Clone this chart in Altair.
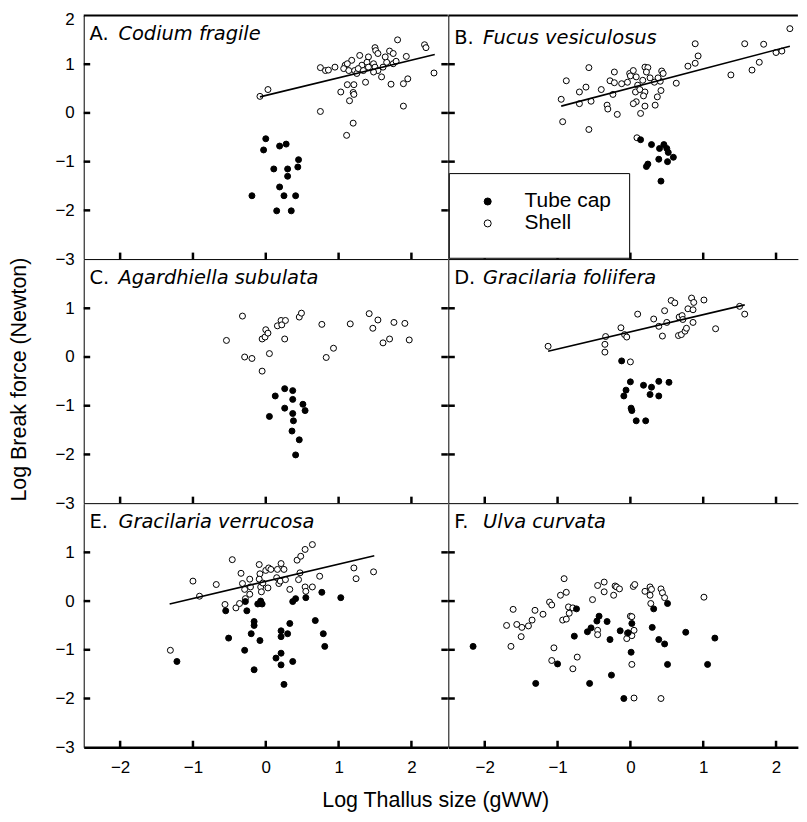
import altair as alt
import pandas as pd

# ---------------- data ----------------
letters = ["A", "B", "C", "D", "E", "F"]
species = ["Codium fragile", "Fucus vesiculosus", "Agardhiella subulata",
           "Gracilaria foliifera", "Gracilaria verrucosa", "Ulva curvata"]
groups = ["Tube cap", "Shell"]
x_ticks = [-2, -1, 0, 1, 2]
y_ticks = [-2, -1, 0, 1]
x_title = "Log Thallus size (gWW)"
y_title = "Log Break force (Newton)"

# A. Codium fragile
codium_cap_x = [0.00, -0.03, 0.19, 0.28, 0.45, 0.44, 0.11, 0.30, 0.30, 0.19, -0.19, 0.25, 0.41, 0.15, 0.35]
codium_cap_y = [-0.53, -0.76, -0.68, -0.64, -0.96, -1.11, -1.15, -1.15, -1.30, -1.52, -1.70, -1.70, -1.70, -2.01, -2.01]
codium_shell_x = [-0.08, 0.03, 0.75, 0.82, 0.86, 0.95, 0.75, 1.03, 1.12, 1.21, 1.15, 1.20, 1.21, 1.20, 1.11,
                  1.37, 1.72, 1.89, 1.95, 1.89, 2.31, 2.18, 2.20, 1.81, 1.93, 1.70, 1.75, 1.50, 1.51, 1.54,
                  1.29, 1.41, 1.18, 1.09, 1.07, 1.14, 1.22, 1.25, 1.32, 1.39, 1.48, 1.50, 1.54, 1.59, 1.61,
                  1.66, 1.75, 1.79, 1.64, 1.27, 1.34, 1.41, 1.12, 1.48]
codium_shell_y = [0.34, 0.48, 0.93, 0.87, 0.88, 0.94, 0.03, 0.43, 0.58, 0.58, 0.25, 0.42, 0.38, -0.21, -0.46,
                  0.63, 0.59, 0.60, 0.70, 0.14, 0.82, 1.40, 1.34, 1.50, 1.16, 1.27, 1.22, 1.34, 1.28, 1.22,
                  1.18, 1.15, 1.08, 0.98, 0.91, 0.87, 0.87, 0.81, 0.98, 1.04, 1.01, 0.94, 0.87, 0.74, 0.94,
                  1.04, 1.01, 1.06, 1.15, 0.91, 0.87, 0.94, 1.01, 0.84]
codium_fit_x = [-0.08, 2.32]
codium_fit_y = [0.33, 1.20]

# B. Fucus vesiculosus
fucus_cap_x = [0.14, 0.29, 0.40, 0.46, 0.50, 0.52, 0.39, 0.51, 0.59, 0.24, 0.22, 0.42]
fucus_cap_y = [-0.55, -0.65, -0.73, -0.65, -0.73, -0.81, -0.95, -1.00, -0.91, -1.05, -1.10, -1.40]
fucus_shell_x = [2.19, 0.89, 1.57, 1.83, 0.93, 0.89, 0.79, 2.00, 2.08, 1.77, 1.67, 1.38, 0.63, -0.57, -0.88,
                 -0.95, -0.93, -0.57, -0.70, -0.61, -0.40, -0.54, -0.70, -0.32, -0.31, -0.18, -0.24, -0.28,
                 -0.22, -0.22, -0.12, -0.04, -0.01, 0.04, 0.00, 0.08, 0.20, 0.24, 0.22, 0.27, 0.17, 0.10,
                 0.07, 0.13, 0.20, 0.18, 0.08, 0.04, 0.14, 0.20, 0.34, 0.37, 0.42, 0.41, 0.38, 0.43, 0.45,
                 0.33, 0.09]
fucus_shell_y = [1.73, 1.42, 1.42, 1.41, 1.17, 1.02, 0.96, 1.24, 1.27, 1.04, 0.88, 0.78, 0.61, 0.93, 0.66,
                 0.28, -0.18, -0.34, 0.43, 0.53, 0.48, 0.24, 0.19, 0.16, 0.08, -0.03, 0.38, 0.66,
                 0.84, 0.62, 0.60, 0.63, 0.81, 0.87, 0.76, 0.74, 0.94, 0.93, 0.84, 0.72, 0.67, 0.57,
                 0.43, 0.48, 0.43, 0.35, 0.23, 0.19, -0.01, 0.14, 0.16, 0.33, 0.46, 0.65, 0.72, 0.86, 0.81,
                 0.63, -0.51]
fucus_fit_x = [-0.95, 2.19]
fucus_fit_y = [0.14, 1.37]

# C. Agardhiella subulata
agard_cap_x = [0.26, 0.37, 0.37, 0.13, 0.51, 0.54, 0.26, 0.37, 0.38, 0.05, 0.36, 0.46, 0.41]
agard_cap_y = [-0.65, -0.69, -0.87, -0.80, -0.97, -1.10, -1.05, -1.16, -1.31, -1.22, -1.52, -1.70, -2.01]
agard_shell_x = [-0.54, -0.32, -0.29, -0.19, -0.05, -0.05, -0.01, 0.00, 0.03, 0.05, 0.16, 0.21, 0.22, 0.27,
                 0.26, 0.46, 0.49, 0.77, 0.83, 0.93, 1.16, 1.42, 1.47, 1.54, 1.61, 1.70, 1.76, 1.91, 1.97]
agard_shell_y = [0.34, 0.84, 0.00, -0.03, -0.29, 0.37, 0.41, 0.56, 0.49, 0.07, 0.64, 0.75, 0.66, 0.75,
                 0.37, 0.82, 0.90, 0.67, -0.01, 0.18, 0.68, 0.89, 0.59, 0.76, 0.29, 0.37, 0.71, 0.69, 0.35]

# D. Gracilaria foliifera
foli_cap_x = [-0.12, 0.00, -0.06, -0.09, 0.18, 0.29, 0.39, 0.53, 0.27, 0.39, 0.01, 0.02, 0.08, 0.21]
foli_cap_y = [-0.08, -0.51, -0.68, -0.80, -0.58, -0.62, -0.50, -0.52, -0.77, -0.80, -1.05, -1.10, -1.31, -1.31]
foli_shell_x = [-1.13, -0.34, -0.35, -0.35, -0.13, -0.08, -0.05, 0.00, 0.10, 0.32, 0.39, 0.44, 0.47, 0.50,
                0.56, 0.61, 0.67, 0.71, 0.72, 0.66, 0.70, 0.75, 0.77, 0.79, 0.84, 0.87, 0.86, 0.86, 1.01,
                1.17, 1.50, 1.57]
foli_shell_y = [0.22, 0.42, 0.26, 0.10, 0.60, 0.46, 0.41, -0.10, 0.88, 0.78, 0.63, 0.43, 0.95, 0.71,
                1.16, 1.11, 0.82, 0.85, 0.77, 0.44, 0.46, 0.53, 0.59, 0.99, 1.21, 1.12, 0.97, 0.71, 1.17,
                0.58, 1.04, 0.88]
foli_fit_x = [-1.13, 1.57]
foli_fit_y = [0.12, 1.07]

# E. Gracilaria verrucosa
verr_cap_x = [-1.22, -0.55, -0.51, -0.29, -0.26, -0.28, -0.16, -0.16, -0.20, -0.08, -0.16, -0.07, -0.05, -0.11,
              0.14, 0.21, 0.21, 0.25, 0.21, 0.21, 0.30, 0.33, 0.37, 0.37, 0.41, 0.55, 0.68, 0.77, 0.79, 0.81, 1.03]
verr_cap_y = [-1.24, -0.20, -0.76, -1.01, -0.20, -0.01, -0.42, -0.50, -0.67, -0.81, -1.41, 0.00, -0.06, -0.06,
              -1.17, -1.07, -1.31, -1.71, -0.61, -0.73, -0.67, -0.46, -1.24, -0.01, 0.05, 0.07, -0.40, 0.18, -0.67,
              -0.93, 0.07]
verr_shell_x = [-1.31, -1.00, -0.91, -0.68, -0.56, -0.46, -0.41, -0.36, -0.34, -0.32, -0.29, -0.28, -0.22, -0.21,
                -0.22, -0.09, -0.08, -0.09, -0.07, -0.06, -0.04, 0.00, 0.03, 0.04, 0.07, 0.16, 0.15, 0.18, 0.20,
                0.21, 0.25, 0.27, 0.33, 0.43, 0.45, 0.47, 0.48, 0.54, 0.54, 0.55, 0.64, 0.64, 0.74, 1.21, 1.24, 1.48]
verr_shell_y = [-1.01, 0.41, 0.10, 0.34, -0.07, 0.85, -0.14, -0.05, 0.57, 0.36, 0.24, 0.05, 0.45, 0.29,
                0.14, 0.75, 0.56, 0.45, 0.29, 0.19, 0.37, 0.63, 0.27, 0.68, 0.65, 0.65, 0.48, 0.36, 0.41,
                0.77, 0.65, 0.44, 0.24, 0.84, 0.44, 0.58, 0.92, 1.06, 0.29, 0.20, 1.16, 0.29, 0.51, 0.68, 0.46, 0.60]
verr_fit_x = [-1.32, 1.49]
verr_fit_y = [-0.06, 0.93]

# F. Ulva curvata
ulva_cap_x = [-2.16, -1.30, -1.00, -0.77, -0.74, -0.59, -0.54, -0.56, -0.46, -0.43, -0.32, -0.28, -0.26, -0.14,
              -0.09, -0.03, 0.01, 0.02, 0.30, 0.32, 0.39, 0.47, 0.51, 0.51, 0.76, 1.06, 1.16]
ulva_cap_y = [-0.93, -1.69, -1.29, -0.72, -0.16, -0.63, -0.55, -1.69, -0.41, -0.31, -0.42, -0.79, -1.52, -0.61,
              -2.00, -0.65, -1.05, -0.46, -0.54, -0.16, -0.79, -0.88, -0.05, -1.30, -0.64, -1.30, -0.76]
ulva_shell_x = [-1.70, -1.64, -1.61, -1.56, -1.50, -1.49, -1.40, -1.35, -1.31, -1.20, -1.11, -1.08, -1.08, -1.05,
                -0.96, -0.93, -0.91, -0.88, -0.88, -0.85, -0.84, -0.79, -0.79, -0.73, -0.52, -0.45, -0.45, -0.45,
                -0.36, -0.36, -0.23, -0.21, -0.19, -0.15, -0.05, -0.04, 0.00, 0.02, 0.02, 0.05, 0.02, 0.05,
                0.04, 0.06, 0.20, 0.27, 0.27, 0.29, 0.28, 0.42, 0.44, 0.47, 0.42, 1.01]
ulva_shell_y = [-0.50, -0.93, -0.17, -0.48, -0.73, -0.54, -0.51, -0.39, -0.19, -0.27, -0.02, -0.08, -1.22, -0.96,
                0.12, -0.39, 0.46, 0.18, -0.37, -0.12, -0.25, -0.14, -1.39, -1.15, 0.03, -0.60, -0.69, 0.32,
                0.39, 0.19, 0.12, 0.31, 0.29, 0.25, -0.77, -0.66, -0.31, -0.32, -0.71, -0.60, -1.30, -1.99,
                0.30, 0.34, 0.20, 0.29, 0.12, 0.24, -0.05, 0.25, 0.17, 0.07, -2.00, 0.08]

panels_data = [
    (codium_cap_x, codium_cap_y, codium_shell_x, codium_shell_y, codium_fit_x, codium_fit_y),
    (fucus_cap_x, fucus_cap_y, fucus_shell_x, fucus_shell_y, fucus_fit_x, fucus_fit_y),
    (agard_cap_x, agard_cap_y, agard_shell_x, agard_shell_y, None, None),
    (foli_cap_x, foli_cap_y, foli_shell_x, foli_shell_y, foli_fit_x, foli_fit_y),
    (verr_cap_x, verr_cap_y, verr_shell_x, verr_shell_y, verr_fit_x, verr_fit_y),
    (ulva_cap_x, ulva_cap_y, ulva_shell_x, ulva_shell_y, None, None),
]

# ---------------- layout / style ----------------
FONT = "Liberation Sans"
TITLE_FONT = "DejaVu Sans"
X_MIN, X_MAX_L, X_MAX_R = -2.5, 2.5, 2.3
Y_MIN, Y_MAX = -3, 2
W_LEFT, H = 365.5, 244.5
PX_PER_X = W_LEFT / (X_MAX_L - X_MIN)
W_RIGHT = PX_PER_X * (X_MAX_R - X_MIN)
PX_PER_Y = H / (Y_MAX - Y_MIN)
TICK_PX = 6.5
label_x = -2.42
label_y = [1.50, 1.42, 1.50, 1.50, 1.49, 1.49]


def make_panel(i, cap_x, cap_y, shell_x, shell_y, fit_x, fit_y):
    row, col = divmod(i, 2)
    is_left, is_top, is_bottom = col == 0, row == 0, row == 2
    w = W_LEFT if is_left else W_RIGHT
    x_max = X_MAX_L if is_left else X_MAX_R
    xs = alt.Scale(domain=[X_MIN, x_max], nice=False, zero=False)
    ys = alt.Scale(domain=[Y_MIN, Y_MAX], nice=False, zero=False)

    x_main = alt.Axis(
        orient="bottom", values=x_ticks, ticks=False, tickSize=0, labels=is_bottom,
        domain=True, domainColor="black", domainWidth=2.7 if is_bottom else 1,
        grid=False, labelFont=FONT, labelFontSize=17, labelColor="black", labelPadding=12,
        labelFlush=False, labelOverlap=False, minExtent=0,
        title=x_title if (is_bottom and is_left) else None,
        titleFont=FONT, titleFontSize=21.5, titleFontWeight="normal", titleColor="black",
        titleX=352.75, titleY=59.5, titleAlign="center", titleBaseline="alphabetic",
    )
    y_main = alt.Axis(
        orient="left", values=([2, 1, 0, -1, -2, -3] if is_top else [1, 0, -1, -2, -3]),
        ticks=False, tickSize=0, labels=is_left, domain=True, domainColor="black", domainWidth=1,
        grid=False, labelFont=FONT, labelFontSize=17, labelColor="black", labelPadding=9.5,
        labelOffset={"condition": {"test": "datum.value == 2", "value": 4.5}, "value": 0},
        labelFlush=False, labelOverlap=False, minExtent=0,
        title=y_title if i == 2 else None,
        titleFont=FONT, titleFontSize=21.5, titleFontWeight="normal", titleColor="black",
        titleX=-64.5, titleY=120, titleAngle=270, titleAlign="center", titleBaseline="middle",
    )

    # every layer shares the very same axis definitions
    def X(field="x"):
        return alt.X(f"{field}:Q", scale=xs, axis=x_main)

    def Y(field="y"):
        return alt.Y(f"{field}:Q", scale=ys, axis=y_main)

    pts = pd.DataFrame({
        "x": list(shell_x) + list(cap_x),
        "y": list(shell_y) + list(cap_y),
        "group": ["Shell"] * len(shell_x) + ["Tube cap"] * len(cap_x),
    })

    if i == 1:
        legend = alt.Legend(
            orient="none", legendX=0.5, legendY=158.2, title=" ", titleOrient="bottom",
            titleFontSize=6, titlePadding=0, fillColor="white", strokeColor="black",
            padding=18, symbolType="circle", symbolSize=50, symbolStrokeColor="black",
            symbolStrokeWidth=1, symbolOffset=10.5, labelOffset=26.5, labelFont=FONT,
            labelFontSize=21, labelColor="black", rowPadding=0,
        )
    else:
        legend = None

    points = alt.Chart(pts).mark_point(filled=True, size=36, stroke="black", strokeWidth=1, opacity=1).encode(
        x=X(), y=Y(),
        fill=alt.Fill("group:N", scale=alt.Scale(domain=groups, range=["black", "white"]), legend=legend),
    )
    layers = [points]

    # inward tick marks at the tick values (bottom and left edges, plus right edge of left column)
    tick_len_x = TICK_PX / PX_PER_X
    tick_len_y = TICK_PX / PX_PER_Y
    bt = pd.DataFrame({"x": x_ticks, "y": [Y_MIN] * len(x_ticks),
                       "y2": [Y_MIN + tick_len_y] * len(x_ticks)})
    layers.append(alt.Chart(bt).mark_rule(color="black", strokeWidth=2.5, strokeCap="butt").encode(
        x=X(), y=Y(), y2="y2:Q"))
    lt = pd.DataFrame({"y": y_ticks, "x": [X_MIN] * len(y_ticks),
                       "x2": [X_MIN + tick_len_x] * len(y_ticks)})
    layers.append(alt.Chart(lt).mark_rule(color="black", strokeWidth=2.5, strokeCap="butt").encode(
        y=Y(), x=X(), x2="x2:Q"))
    if is_left:
        rt = pd.DataFrame({"y": y_ticks, "x": [x_max - tick_len_x] * len(y_ticks),
                           "x2": [x_max] * len(y_ticks)})
        layers.append(alt.Chart(rt).mark_rule(color="black", strokeWidth=2.5, strokeCap="butt").encode(
            y=Y(), x=X(), x2="x2:Q"))
    if is_top:
        top = pd.DataFrame({"y": [Y_MAX], "x": [X_MIN], "x2": [x_max]})
        layers.append(alt.Chart(top).mark_rule(color="black", strokeWidth=2).encode(
            y=Y(), x=X(), x2="x2:Q"))

    if fit_x is not None:
        fit = alt.Chart(pd.DataFrame({"x": fit_x, "y": fit_y})).mark_line(
            color="black", strokeWidth=1.6).encode(x=X(), y=Y())
        layers.append(fit)

    lab = pd.DataFrame({"x": [label_x], "y": [label_y[i]],
                        "letter": [letters[i] + "."], "name": [species[i]]})
    letter_txt = alt.Chart(lab).mark_text(
        align="left", baseline="alphabetic", font=TITLE_FONT, fontSize=19.5, color="black").encode(
        x=X(), y=Y(), text="letter:N")
    name_txt = alt.Chart(lab).mark_text(
        align="left", baseline="alphabetic", font=TITLE_FONT, fontSize=19.5, fontStyle="italic",
        color="black", dx=29).encode(
        x=X(), y=Y(), text="name:N")
    layers += [letter_txt, name_txt]

    return alt.layer(*layers).properties(width=w, height=H)


panels = [make_panel(i, *d) for i, d in enumerate(panels_data)]

chart = alt.concat(*panels, columns=2, spacing=0, bounds="flush").resolve_scale(
    x="independent", y="independent", fill="independent"
).resolve_legend(fill="independent").properties(
    padding={"left": 0, "top": 1, "right": 0, "bottom": 0},
    background="white",
).configure_view(stroke=None)

chart.save("out.html", embed_options={"renderer": "svg", "actions": False})
